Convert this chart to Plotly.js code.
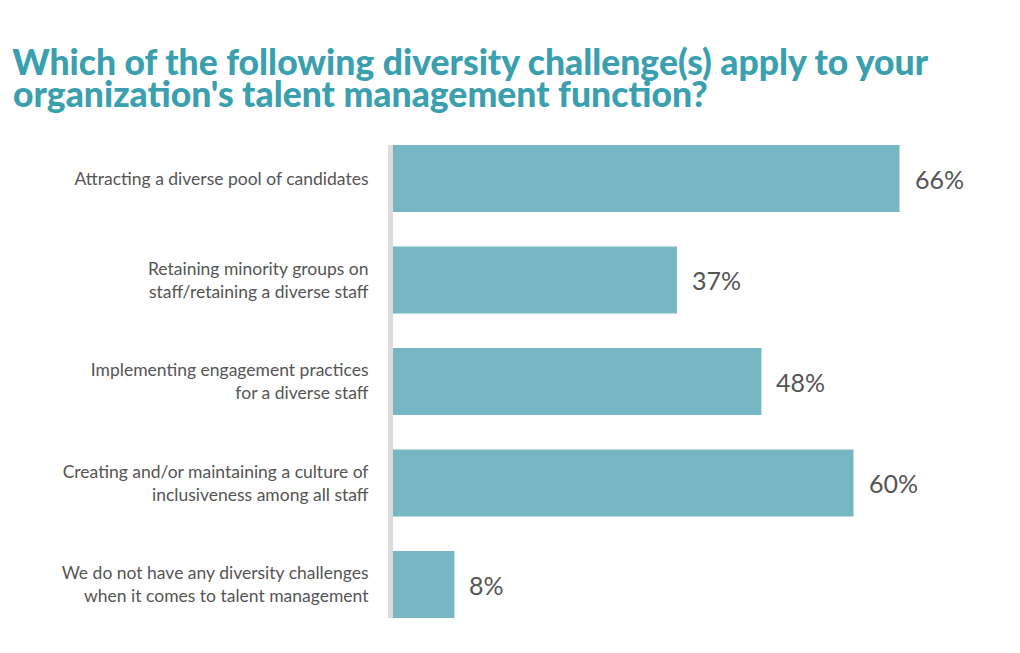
<!DOCTYPE html>
<html>
<head>
<meta charset="utf-8">
<script src="https://cdn.plot.ly/plotly-3.0.1.min.js"></script>
<style>
  body { margin: 0; background: #fff; }
  #graphDiv { width: 1020px; height: 653px; }
</style>
</head>
<body>
<div id="graphDiv"></div>
<script>
// html tag
const graphDiv = document.getElementById('graphDiv');

// data *********************************************
const titleLines = [
  'Which of the following diversity challenge(s) apply to your',
  'organization\'s talent management function?'
];
const challenges = [
  'Attracting a diverse pool of candidates',
  'Retaining minority groups on<br>staff/retaining a diverse staff',
  'Implementing engagement practices<br>for a diverse staff',
  'Creating and/or maintaining a culture of<br>inclusiveness among all staff',
  'We do not have any diversity challenges<br>when it comes to talent management'
];
const shares = [66, 37, 48, 60, 8];
const shareLabels = ['66%', '37%', '48%', '60%', '8%'];

// colours
const barColor = '#77b7c3';
const titleColor = '#3a9fae';
const textColor = '#555555';
const titleFont = { family: 'Lato', size: 35.5, color: titleColor, weight: 900 };

// value labels next to the bars
var notes = [];
for (var i = 0; i < shares.length; i++) {
  notes.push({
    x: shares[i],
    y: challenges[i],
    xref: 'x',
    yref: 'y',
    text: shareLabels[i],
    showarrow: false,
    xanchor: 'left',
    xshift: 13,
    font: { family: 'Lato', size: 25, color: textColor }
  });
}

// second title line, tighter than plotly's own line spacing
notes.push({
  x: 0,
  y: 1,
  xref: 'paper',
  yref: 'paper',
  text: titleLines[1],
  showarrow: false,
  xanchor: 'left',
  yanchor: 'middle',
  font: titleFont
});

Plotly.newPlot(
  graphDiv,
  [
    {
      type: 'bar',
      orientation: 'h',
      x: shares,
      y: challenges,
      marker: { color: barColor },
      hoverinfo: 'none'
    }
  ],
  {
    width: 1020,
    height: 653,
    margin: { l: 393, r: 13, t: 145, b: 35 },
    paper_bgcolor: '#ffffff',
    plot_bgcolor: '#ffffff',
    bargap: 0.34,
    showlegend: false,
    title: {
      text: titleLines[0],
      font: titleFont,
      x: 0.012,
      xanchor: 'left',
      xref: 'container',
      y: 1 - 63 / 653,
      yanchor: 'middle',
      yref: 'container'
    },
    xaxis: {
      range: [0, 80],
      visible: false,
      fixedrange: true
    },
    yaxis: {
      autorange: false,
      range: [4.33, -0.33],
      showgrid: false,
      zeroline: false,
      showline: true,
      linecolor: '#dcdcdc',
      linewidth: 5,
      ticks: '',
      ticklabelstandoff: 16,
      tickfont: { family: 'Lato', size: 17.5, color: textColor },
      fixedrange: true
    },
    annotations: notes
  },
  { displayModeBar: false, staticPlot: true }
);

// put the second title line in page coordinates
(function () {
  var fl = graphDiv._fullLayout;
  var last = graphDiv.layout.annotations.length - 1;
  var px = 11, py = 94;
  var upd = {};
  upd['annotations[' + last + '].x'] = (px - fl._size.l) / fl._size.w;
  upd['annotations[' + last + '].y'] = (fl._size.t + fl._size.h - py) / fl._size.h;
  Plotly.relayout(graphDiv, upd);
})();
</script>
</body>
</html>
